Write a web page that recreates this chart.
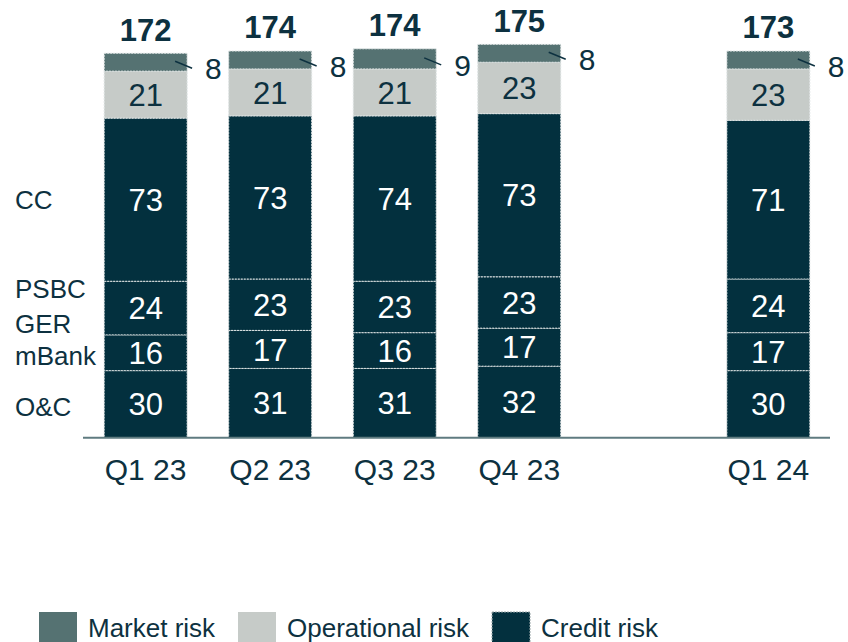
<!DOCTYPE html>
<html>
<head>
<meta charset="utf-8">
<script src="https://cdn.jsdelivr.net/npm/d3@7"></script>
<style>
  html, body { margin: 0; padding: 0; background: #ffffff; }
  svg { display: block; font-family: "Liberation Sans", Arial, sans-serif; }
</style>
</head>
<body>
<div id="chart"></div>
<script>
// ── Data ─────────────────────────────────────────────────────────────────
const quarters = ["Q1 23", "Q2 23", "Q3 23", "Q4 23", "Q1 24"];
const slots = ["Q1 23", "Q2 23", "Q3 23", "Q4 23", "gap", "Q1 24"];
const totals = [172, 174, 174, 175, 173];

const creditOC = [30, 31, 31, 32, 30];
const creditMBank = [16, 17, 16, 17, 17];
const creditGER = [24, 23, 23, 23, 24];
const creditCC = [73, 73, 74, 73, 71];
const operationalRisk = [21, 21, 21, 23, 23];
const marketRisk = [8, 8, 9, 8, 8];

const rowLabels = ["CC", "PSBC", "GER", "mBank", "O&C"];
const legendLabels = ["Market risk", "Operational risk", "Credit risk"];

// ── Colours ──────────────────────────────────────────────────────────────
const cMarket = "#557272";
const cOper = "#c6cbc8";
const cCredit = "#03303e";
const cText = "#0d3140";

const W = 848;
const H = 642;

const svg = d3
  .select("#chart")
  .append("svg")
  .attr("width", W)
  .attr("height", H);

// ── Scales ───────────────────────────────────────────────────────────────
const baseY = 437.7;

const x = d3
  .scaleBand()
  .domain(slots)
  .range([83, 831])
  .paddingInner(0.334)
  .paddingOuter(0.17);

const y = d3
  .scaleLinear()
  .domain([0, 175])
  .range([baseY, baseY - 175 * 2.235]);

// ── Stacks ───────────────────────────────────────────────────────────────
const layers = [
  { key: "oc", vals: creditOC, fill: cCredit, txt: "#ffffff" },
  { key: "mbank", vals: creditMBank, fill: cCredit, txt: "#ffffff" },
  { key: "ger", vals: creditGER, fill: cCredit, txt: "#ffffff" },
  { key: "cc", vals: creditCC, fill: cCredit, txt: "#ffffff" },
  { key: "op", vals: operationalRisk, fill: cOper, txt: cText },
  { key: "mk", vals: marketRisk, fill: cMarket, txt: null },
];

const rows = quarters.map((q, i) => {
  const r = { q };
  layers.forEach((l) => (r[l.key] = l.vals[i]));
  return r;
});

const stacked = d3.stack().keys(layers.map((l) => l.key))(rows);

const bw = x.bandwidth();
const mid = (d) => (y(d[0]) + y(d[1])) / 2;

stacked.forEach((series, li) => {
  const L = layers[li];
  const g = svg.append("g");

  g.selectAll("rect")
    .data(series)
    .join("rect")
    .attr("x", (d) => x(d.data.q))
    .attr("y", (d) => y(d[1]))
    .attr("width", bw)
    .attr("height", (d) => y(d[0]) - y(d[1]))
    .attr("fill", L.fill)
    .attr("stroke", "#dfe4e4")
    .attr("stroke-width", 1)
    .attr("stroke-dasharray", "2,1");

  if (L.txt) {
    g.selectAll("text")
      .data(series)
      .join("text")
      .attr("x", (d) => x(d.data.q) + bw / 2)
      .attr("y", mid)
      .attr("text-anchor", "middle")
      .attr("dy", "0.36em")
      .attr("fill", L.txt)
      .style("font-size", "31px")
      .text((d) => d[1] - d[0]);
  } else {
    // market risk: value outside bar with a small leader line
    g.selectAll("line")
      .data(series)
      .join("line")
      .attr("x1", (d) => x(d.data.q) + bw - 12)
      .attr("y1", (d) => mid(d) - 1)
      .attr("x2", (d) => x(d.data.q) + bw + 5)
      .attr("y2", (d) => mid(d) + 6)
      .attr("stroke", cText)
      .attr("stroke-width", 1.5);

    g.selectAll("text")
      .data(series)
      .join("text")
      .attr("x", (d) => x(d.data.q) + bw + 18)
      .attr("y", (d) => mid(d) + 6)
      .attr("dy", "0.36em")
      .attr("fill", cText)
      .style("font-size", "30px")
      .text((d) => d[1] - d[0]);
  }
});

// ── Totals ───────────────────────────────────────────────────────────────
const topSeries = stacked[stacked.length - 1];

svg
  .append("g")
  .selectAll("text")
  .data(topSeries)
  .join("text")
  .attr("x", (d) => x(d.data.q) + bw / 2)
  .attr("y", (d) => y(d[1]) - 12.6)
  .attr("text-anchor", "middle")
  .attr("fill", cText)
  .style("font-size", "31px")
  .style("font-weight", "700")
  .text((d, i) => totals[i]);

// ── Axis ─────────────────────────────────────────────────────────────────
svg
  .append("line")
  .attr("x1", 83)
  .attr("x2", 830)
  .attr("y1", baseY)
  .attr("y2", baseY)
  .attr("stroke", "#5f7b80")
  .attr("stroke-width", 2);

svg
  .append("g")
  .selectAll("text")
  .data(quarters)
  .join("text")
  .attr("x", (d) => x(d) + bw / 2)
  .attr("y", baseY + 42)
  .attr("text-anchor", "middle")
  .attr("fill", cText)
  .style("font-size", "30px")
  .text((d) => d);

// ── Row labels (credit risk split) ───────────────────────────────────────
const rowY = [209, 298, 333, 365, 416];

svg
  .append("g")
  .selectAll("text")
  .data(rowLabels)
  .join("text")
  .attr("x", 15)
  .attr("y", (d, i) => rowY[i])
  .attr("fill", cText)
  .style("font-size", "26px")
  .text((d) => d);

// ── Legend ───────────────────────────────────────────────────────────────
const legColors = [cMarket, cOper, cCredit];
const legX = [39, 238, 492];

const leg = svg
  .append("g")
  .selectAll("g")
  .data(legendLabels)
  .join("g")
  .attr("transform", (d, i) => `translate(${legX[i]},612)`);

leg
  .append("rect")
  .attr("width", 38)
  .attr("height", 38)
  .attr("fill", (d, i) => legColors[i])
  .attr("stroke", (d, i) => (i === 2 ? "#9aa6a8" : "none"))
  .attr("stroke-dasharray", "2,1");

leg
  .append("text")
  .attr("x", 49)
  .attr("y", 24.7)
  .attr("fill", cText)
  .style("font-size", "26px")
  .text((d) => d);
</script>
</body>
</html>
